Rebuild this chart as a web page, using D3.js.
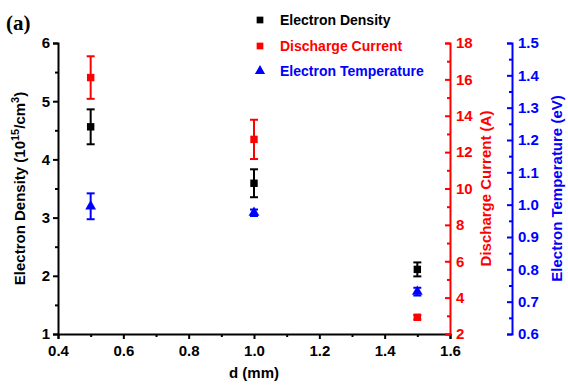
<!DOCTYPE html>
<html>
<head>
<meta charset="utf-8">
<script src="https://cdn.jsdelivr.net/npm/d3@7"></script>
<style>
  body { margin: 0; background: #fff; }
  svg text { font-family: "Liberation Sans", Arial, sans-serif; font-weight: bold; }
</style>
</head>
<body>
<div id="wrapper"></div>
<script>
// data
const gaps = [0.5, 1.0, 1.5]
const density = [4.56, 3.59, 2.11]
const densityErr = [0.3, 0.24, 0.12]
const current = [16.1, 12.7, 2.92]
const currentErr = [1.17, 1.08, 0.12]
const temperature = [0.995, 0.975, 0.731]
const temperatureErr = [0.04, 0.01, 0.012]

const xTicks = [0.4, 0.6, 0.8, 1.0, 1.2, 1.4, 1.6]
const densityTicks = [1, 2, 3, 4, 5, 6]
const currentTicks = [2, 4, 6, 8, 10, 12, 14, 16, 18]
const tempTicks = [0.6, 0.7, 0.8, 0.9, 1.0, 1.1, 1.2, 1.3, 1.4, 1.5]

const dms = {
    width: 568,
    height: 385,
    margins: { top: 43, right: 118, bottom: 51, left: 58 }
}
dms.boundedWidth = dms.width - dms.margins.left - dms.margins.right
dms.boundedHeight = dms.height - dms.margins.top - dms.margins.bottom

const svg = d3.select('#wrapper')
    .append('svg')
        .attr('width', dms.width)
        .attr('height', dms.height)

const bounds = svg.append('g')
    .attr('transform', `translate(${dms.margins.left},${dms.margins.top})`)

// scales
const xScale = d3.scaleLinear().domain([0.4, 1.6]).range([0, dms.boundedWidth])
const yDensity = d3.scaleLinear().domain([1, 6]).range([dms.boundedHeight, 0])
const yCurrent = d3.scaleLinear().domain([2, 18]).range([dms.boundedHeight, 0])
const yTemp = d3.scaleLinear().domain([0.6, 1.5]).range([dms.boundedHeight, 0])

function styleAxis(g, color) {
    g.select('.domain').attr('stroke', color).attr('stroke-width', 2)
    g.selectAll('.tick line').attr('stroke', color).attr('stroke-width', 2)
    g.selectAll('.tick text').attr('fill', color).style('font-size', '15px')
}

function minor(g, axis, color) {
    g.call(axis)
    g.select('.domain').remove()
    g.selectAll('text').remove()
    g.selectAll('.tick line').attr('stroke', color).attr('stroke-width', 2)
}

// x axis
const xAxis = bounds.append('g')
    .attr('transform', `translate(0,${dms.boundedHeight})`)
    .call(d3.axisBottom(xScale).tickValues(xTicks).tickSize(5).tickPadding(6).tickFormat(d3.format('.1f')))
styleAxis(xAxis, '#000')
bounds.append('g')
    .attr('transform', `translate(0,${dms.boundedHeight})`)
    .call(g => minor(g, d3.axisBottom(xScale).tickValues(d3.range(0.5, 1.6, 0.2)).tickSize(3), '#000'))

// left axis
const yAxisL = bounds.append('g')
    .call(d3.axisLeft(yDensity).tickValues(densityTicks).tickSize(5).tickPadding(3).tickFormat(d3.format('d')))
styleAxis(yAxisL, '#000')
bounds.append('g')
    .call(g => minor(g, d3.axisLeft(yDensity).tickValues(d3.range(1.5, 6, 1)).tickSize(3), '#000'))

// red axis
const redX = dms.boundedWidth
const yAxisR = bounds.append('g')
    .attr('transform', `translate(${redX},0)`)
    .call(d3.axisRight(yCurrent).tickValues(currentTicks).tickSize(-5).tickPadding(4))
styleAxis(yAxisR, '#ff0000')
yAxisR.selectAll('.tick text').attr('x', 6)
bounds.append('g')
    .attr('transform', `translate(${redX},0)`)
    .call(g => minor(g, d3.axisRight(yCurrent).tickValues(d3.range(3, 18, 2)).tickSize(-3), '#ff0000'))

// blue axis
const blueX = dms.boundedWidth + 62
const yAxisB = bounds.append('g')
    .attr('transform', `translate(${blueX},0)`)
    .call(d3.axisRight(yTemp).tickValues(tempTicks).tickSize(-5).tickFormat(d3.format('.1f')))
styleAxis(yAxisB, '#0000ff')
yAxisB.selectAll('.tick text').attr('x', 6)
bounds.append('g')
    .attr('transform', `translate(${blueX},0)`)
    .call(g => minor(g, d3.axisRight(yTemp).tickValues(d3.range(0.65, 1.5, 0.1)).tickSize(-3), '#0000ff'))

// error bars + markers
function drawSeries(values, errs, yScale, color, shape) {
    const data = gaps.map((d, i) => ({ x: d, y: values[i], e: errs[i] }))
    const g = bounds.append('g')
    const cap = 4
    data.forEach(d => {
        const cx = xScale(d.x)
        const y0 = yScale(d.y - d.e)
        const y1 = yScale(d.y + d.e)
        g.append('line').attr('x1', cx).attr('x2', cx).attr('y1', y0).attr('y2', y1)
            .attr('stroke', color).attr('stroke-width', 2)
        ;[y0, y1].forEach(yy => g.append('line')
            .attr('x1', cx - cap).attr('x2', cx + cap).attr('y1', yy).attr('y2', yy)
            .attr('stroke', color).attr('stroke-width', 2))
    })
    g.selectAll('path.marker')
        .data(data)
        .join('path')
            .attr('class', 'marker')
            .attr('transform', d => `translate(${xScale(d.x)},${yScale(d.y)})`)
            .attr('d', d3.symbol(shape, shape === d3.symbolTriangle ? 50 : 55))
            .attr('fill', color)
}

drawSeries(density, densityErr, yDensity, '#000', d3.symbolSquare)
drawSeries(current, currentErr, yCurrent, '#ff0000', d3.symbolSquare)
drawSeries(temperature, temperatureErr, yTemp, '#0000ff', d3.symbolTriangle)

// axis titles
const leftTitle = svg.append('text')
    .attr('transform', `translate(25,${dms.margins.top + dms.boundedHeight / 2}) rotate(-90)`)
    .attr('text-anchor', 'middle')
    .style('font-size', '15px')
leftTitle.append('tspan').text('Electron Density (10')
leftTitle.append('tspan').attr('baseline-shift', 'super').style('font-size', '11px').text('15')
leftTitle.append('tspan').text('/cm')
leftTitle.append('tspan').attr('baseline-shift', 'super').style('font-size', '11px').text('3')
leftTitle.append('tspan').text(')')

svg.append('text')
    .attr('x', dms.margins.left + dms.boundedWidth / 2)
    .attr('y', 378)
    .attr('text-anchor', 'middle')
    .style('font-size', '15px')
    .text('d (mm)')

svg.append('text')
    .attr('transform', `translate(491,${dms.margins.top + dms.boundedHeight / 2}) rotate(-90)`)
    .attr('text-anchor', 'middle')
    .attr('fill', '#ff0000')
    .style('font-size', '15px')
    .text('Discharge Current (A)')

svg.append('text')
    .attr('transform', `translate(562,${dms.margins.top + dms.boundedHeight / 2}) rotate(-90)`)
    .attr('text-anchor', 'middle')
    .attr('fill', '#0000ff')
    .style('font-size', '15px')
    .text('Electron Temperature (eV)')

svg.append('text')
    .attr('x', 6).attr('y', 30)
    .style('font-family', '"Liberation Serif", "Times New Roman", serif')
    .style('font-size', '21px')
    .text('(a)')

// legend
const legendItems = [
    { name: 'Electron Density', color: '#000', shape: d3.symbolSquare, y: 20 },
    { name: 'Discharge Current', color: '#ff0000', shape: d3.symbolSquare, y: 46 },
    { name: 'Electron Temperature', color: '#0000ff', shape: d3.symbolTriangle, y: 71 }
]
const legend = svg.append('g')
legend.selectAll('path')
    .data(legendItems)
    .join('path')
        .attr('transform', d => `translate(260,${d.y})`)
        .attr('d', d => d3.symbol(d.shape, 45)())
        .attr('fill', d => d.color)
legend.selectAll('text')
    .data(legendItems)
    .join('text')
        .attr('x', 280)
        .attr('y', d => d.y + 5)
        .attr('fill', d => d.color)
        .style('font-size', '14px')
        .text(d => d.name)
</script>
</body>
</html>
